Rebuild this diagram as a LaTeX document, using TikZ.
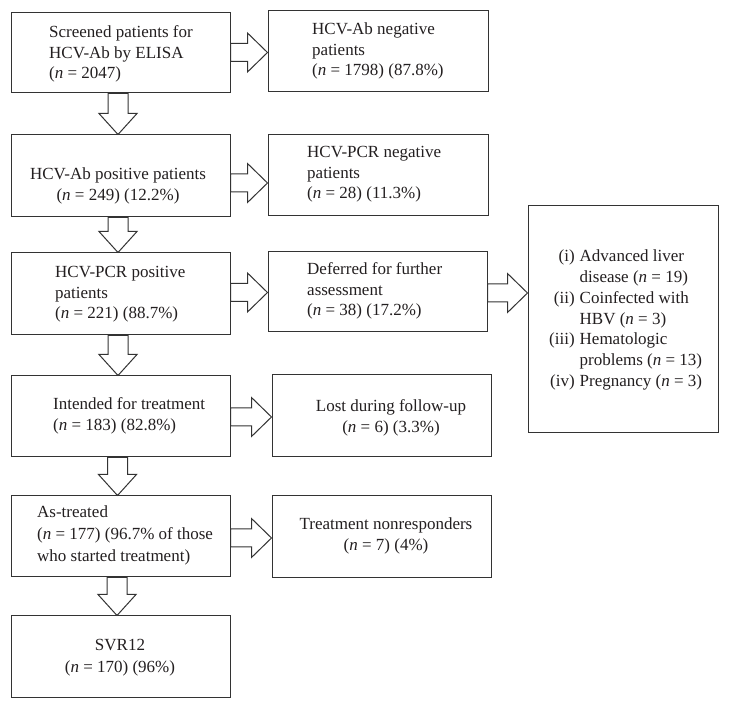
\documentclass[tikz,border=0pt]{standalone}
\usepackage{fontspec}
\setmainfont{Liberation Serif}
\usetikzlibrary{calc}
\definecolor{linec}{HTML}{333333}
\definecolor{txtc}{HTML}{231F20}
\newcommand{\harr}[3]{%
  \path ($(#1.east)+(0,#3)$) coordinate (hs) (hs -| #2.west) coordinate (ht);
  \draw[blk] ($(hs)+(0,-9)$) -- ($(ht)+(-20,-9)$) -- ($(ht)+(-20,-19.5)$) -- (ht)
    -- ($(ht)+(-20,19.5)$) -- ($(ht)+(-20,9)$) -- ($(hs)+(0,9)$) -- cycle;}
\newcommand{\varr}[3]{%
  \path ($(#1.south)+(#3,0)$) coordinate (vs) (vs |- #2.north) coordinate (vt);
  \draw[blk] ($(vs)+(-10,0)$) -- ($(vt)+(-10,-21)$) -- ($(vt)+(-19,-21)$) -- (vt)
    -- ($(vt)+(19,-21)$) -- ($(vt)+(10,-21)$) -- ($(vs)+(10,0)$) -- cycle;}
\newcommand{\nn}{\textit{n}}
\begin{document}
\begin{tikzpicture}[x=1pt,y=-1pt,
  box/.style={draw=linec, line width=1pt, fill=white, inner sep=0pt},
  blk/.style={draw=linec, line width=1pt, fill=white, line join=miter},
  txt/.style={inner sep=0pt, text=txtc, font=\fontsize{17}{20.5}\selectfont},
]
\fill[white] (0,0) rectangle (729,708);
\useasboundingbox (0,0) rectangle (729,708);

% left column
\node[box, minimum width=219pt, minimum height=80pt] (B1) at (120.5,53) {};
\node[box, minimum width=219pt, minimum height=82pt] (B2) at (120.5,176) {};
\node[box, minimum width=219pt, minimum height=82pt] (B3) at (120.5,294) {};
\node[box, minimum width=219pt, minimum height=81pt] (B4) at (120.5,416.5) {};
\node[box, minimum width=219pt, minimum height=81pt] (B5) at (120.5,536.5) {};
\node[box, minimum width=219pt, minimum height=81pt] (B6) at (120.5,656.5) {};
% right column
\node[box, minimum width=220pt, minimum height=81pt] (R1) at (378,51.5) {};
\node[box, minimum width=220pt, minimum height=81pt] (R2) at (378,175.5) {};
\node[box, minimum width=219pt, minimum height=80pt] (R3) at (377.5,292) {};
\node[box, minimum width=219pt, minimum height=82pt] (R4) at (381.5,416) {};
\node[box, minimum width=219pt, minimum height=82pt] (R5) at (381.5,537) {};
\node[box, minimum width=190pt, minimum height=227pt] (RR) at (623,319.5) {};

% texts
\node[txt, anchor=base west] (t1) at (49,38) {\begin{tabular}[t]{@{}l@{}}Screened patients for\\HCV-Ab by ELISA\\(\nn{} = 2047)\end{tabular}};
\node[txt, anchor=base] (t2) at (118,180) {\begin{tabular}[t]{@{}c@{}}HCV-Ab positive patients\\(\nn{} = 249) (12.2\%)\end{tabular}};
\node[txt, anchor=base west] (t3) at (55,278) {\begin{tabular}[t]{@{}l@{}}HCV-PCR positive\\patients\\(\nn{} = 221) (88.7\%)\end{tabular}};
\node[txt, anchor=base west] (t4) at (53,410) {\begin{tabular}[t]{@{}l@{}}Intended for treatment\\(\nn{} = 183) (82.8\%)\end{tabular}};
\node[txt, anchor=base west] (t5) at (37,518) {\fontsize{17}{22}\selectfont\begin{tabular}[t]{@{}l@{}}As-treated\\(\nn{} = 177) (96.7\% of those\\who started treatment)\end{tabular}};
\node[txt, anchor=base] (t6) at (120,650) {\fontsize{17}{22}\selectfont\begin{tabular}[t]{@{}c@{}}SVR12\\(\nn{} = 170) (96\%)\end{tabular}};

\node[txt, anchor=base west] (r1) at (312,35) {\begin{tabular}[t]{@{}l@{}}HCV-Ab negative\\patients\\(\nn{} = 1798) (87.8\%)\end{tabular}};
\node[txt, anchor=base west] (r2) at (307,158) {\begin{tabular}[t]{@{}l@{}}HCV-PCR negative\\patients\\(\nn{} = 28) (11.3\%)\end{tabular}};
\node[txt, anchor=base west] (r3) at (307,275) {\begin{tabular}[t]{@{}l@{}}Deferred for further\\assessment\\(\nn{} = 38) (17.2\%)\end{tabular}};
\node[txt, anchor=base] (r4) at (391,412) {\begin{tabular}[t]{@{}c@{}}Lost during follow-up\\(\nn{} = 6) (3.3\%)\end{tabular}};
\node[txt, anchor=base] (r5) at (386,530) {\begin{tabular}[t]{@{}c@{}}Treatment nonresponders\\(\nn{} = 7) (4\%)\end{tabular}};
\node[txt, anchor=base west] (rr) at (549,262) {\fontsize{17}{20.7}\selectfont\begin{tabular}[t]{@{}r@{\hspace{5pt}}l@{}}(i)&Advanced liver\\&disease (\nn{} = 19)\\(ii)&Coinfected with\\&HBV (\nn{} = 3)\\(iii)&Hematologic\\&problems (\nn{} = 13)\\(iv)&Pregnancy (\nn{} = 3)\end{tabular}};

% horizontal block arrows
\harr{B1}{R1}{-0.5}
\harr{B2}{R2}{7}
\harr{B3}{R3}{-1.5}
\harr{R3}{RR}{1}
\harr{B4}{R4}{0.5}
\harr{B5}{R5}{1.5}
% vertical block arrows
\varr{B1}{B2}{-2.5}
\varr{B2}{B3}{-2.5}
\varr{B3}{B4}{-2.5}
\varr{B4}{B5}{-3}
\varr{B5}{B6}{-3.5}
\end{tikzpicture}
\end{document}
